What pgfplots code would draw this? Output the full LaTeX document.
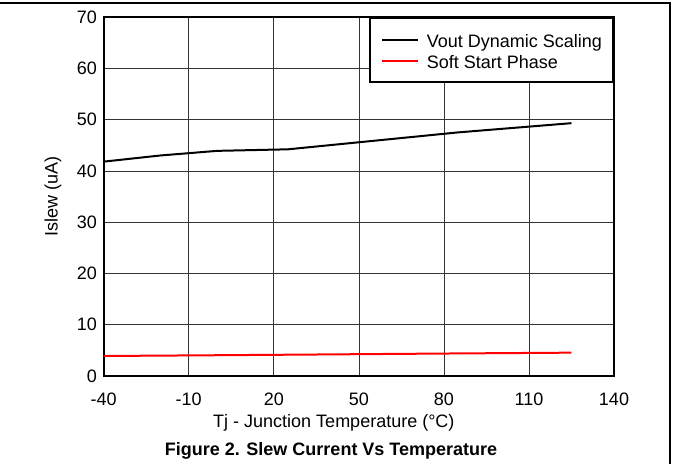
\documentclass[border=0pt]{standalone}
\usepackage{pgfplots}
\pgfplotsset{compat=1.18}
\usepackage{fontspec}
\setmainfont{Liberation Sans}

\begin{document}
\begin{tikzpicture}[x=1pt,y=1pt]
  % page area and the partial frame around the figure
  \useasboundingbox (0,0) rectangle (673,464);
  \draw[line width=1.4pt] (0,461) -- (670,461) -- (670,0);

  \begin{axis}[
    at={(103.7pt,88pt)}, anchor=south west,
    width=510.3pt, height=359pt, scale only axis,
    xmin=-40, xmax=140, ymin=0, ymax=70,
    xtick={-40,-10,...,140}, ytick={0,10,...,70},
    grid=major,
    major grid style={black!80, line width=0.7pt},
    major tick length=0pt,
    axis line style={line width=2pt},
    /pgf/number format/assume math mode=true,
    ticklabel style={font=\fontsize{18}{20}\selectfont},
    xticklabel style={anchor=center, yshift=-23pt},
    yticklabel style={anchor=east, inner sep=0pt, xshift=-6.5pt},
    xlabel={Tj - Junction Temperature (°C)},
    ylabel={Islew (uA)},
    label style={font=\fontsize{18}{20}\selectfont},
    xlabel style={at={(axis description cs:0.451,-0.131)}, anchor=center},
    ylabel style={at={(axis description cs:-0.0994,0.5)}, anchor=center, rotate=0},
    legend style={at={(1,1)}, anchor=north east, draw=black, line width=2pt,
      font=\fontsize{18}{20}\selectfont, inner xsep=11pt, inner ysep=8pt,
      row sep=-6pt, column sep=8pt,
      nodes={inner sep=0pt, text height=21.5pt, text depth=5.5pt}},
    legend cell align=left,
    legend image code/.code={\draw[#1] (0pt,-0.5pt) -- (36pt,-0.5pt);},
  ]
    % Vout dynamic scaling slew current
    \addplot[black, line width=2pt] coordinates {
      (-40,41.8) (-20,43.0) (0,43.9) (25,44.2) (85,47.5) (125,49.3)
    };
    \addlegendentry{Vout Dynamic Scaling}
    % soft start phase slew current
    \addplot[red, line width=2pt] coordinates {
      (-40,3.9) (0,4.05) (25,4.15) (85,4.4) (125,4.55)
    };
    \addlegendentry{Soft Start Phase}
  \end{axis}

  \node[font=\fontsize{18}{20}\selectfont\bfseries] at (331,13) {Figure 2. Slew Current Vs Temperature};
\end{tikzpicture}
\end{document}
